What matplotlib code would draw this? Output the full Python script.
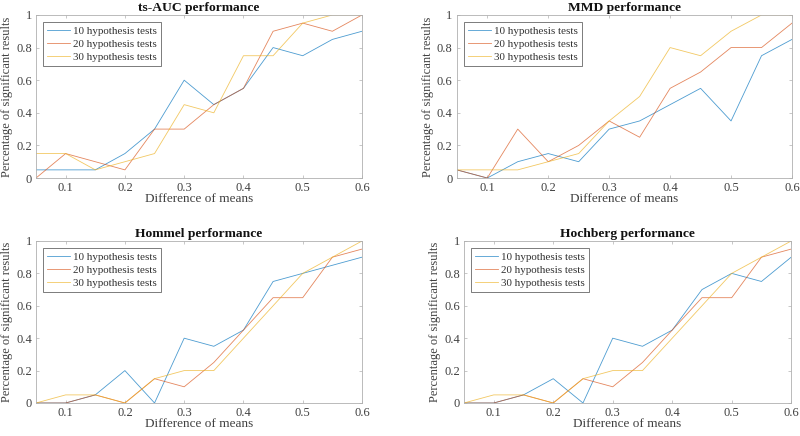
# Recreate 4-panel performance chart (MATLAB style)
import matplotlib
matplotlib.use("Agg")
import matplotlib.pyplot as plt
import numpy as np

plt.rcParams['font.family'] = ['Liberation Serif', 'DejaVu Serif']

diff_means = [0.05, 0.1, 0.15, 0.2, 0.25, 0.3, 0.35, 0.4, 0.45, 0.5, 0.55, 0.6]
series_names = ["10 hypothesis tests", "20 hypothesis tests", "30 hypothesis tests"]

auc_10 = [0.05, 0.05, 0.05, 0.15, 0.3, 0.6, 0.45, 0.55, 0.8, 0.75, 0.85, 0.9]
auc_20 = [0, 0.15, 0.1, 0.05, 0.3, 0.3, 0.45, 0.55, 0.9, 0.95, 0.9, 1.0]
auc_30 = [0.15, 0.15, 0.05, 0.1, 0.15, 0.45, 0.4, 0.75, 0.75, 0.95, 1.0, 1.0]

mmd_10 = [0.05, 0, 0.1, 0.15, 0.1, 0.3, 0.35, 0.45, 0.55, 0.35, 0.75, 0.85]
mmd_20 = [0.05, 0, 0.3, 0.1, 0.2, 0.35, 0.25, 0.55, 0.65, 0.8, 0.8, 0.95]
mmd_30 = [0.05, 0.05, 0.05, 0.1, 0.15, 0.35, 0.5, 0.8, 0.75, 0.9, 1.0, 1.0]

hommel_10 = [0, 0, 0.05, 0.2, 0, 0.4, 0.35, 0.45, 0.75, 0.8, 0.85, 0.9]
hommel_20 = [0, 0, 0.05, 0, 0.15, 0.1, 0.25, 0.45, 0.65, 0.65, 0.9, 0.95]
hommel_30 = [0, 0.05, 0.05, 0, 0.15, 0.2, 0.2, 0.4, 0.6, 0.8, 0.9, 1.0]

hochberg_10 = [0, 0, 0.05, 0.15, 0, 0.4, 0.35, 0.45, 0.7, 0.8, 0.75, 0.9]
hochberg_20 = [0, 0, 0.05, 0, 0.15, 0.1, 0.25, 0.45, 0.65, 0.65, 0.9, 0.95]
hochberg_30 = [0, 0.05, 0.05, 0, 0.15, 0.2, 0.2, 0.4, 0.6, 0.8, 0.9, 1.0]

colors = ["#0072BD", "#D95319", "#EDB120"]

fig = plt.figure(figsize=(8, 4.36), dpi=100)

panels = [
    ("ts-AUC performance", [auc_10, auc_20, auc_30], [0.045, 0.5917, 0.4075, 0.374]),
    ("MMD performance", [mmd_10, mmd_20, mmd_30], [0.571, 0.5917, 0.419, 0.374]),
    ("Hommel performance", [hommel_10, hommel_20, hommel_30], [0.045, 0.0757, 0.4075, 0.3716]),
    ("Hochberg performance", [hochberg_10, hochberg_20, hochberg_30], [0.58, 0.0757, 0.409, 0.3716]),
]

for title, ys, pos in panels:
    ax = fig.add_axes(pos)
    for y, c, name in zip(ys, colors, series_names):
        ax.plot(diff_means, y, color=c, lw=0.6, alpha=0.7, label=name)
    ax.set_xlim(0.05, 0.6)
    ax.set_ylim(0, 1)
    ax.set_xticks([0.1, 0.2, 0.3, 0.4, 0.5, 0.6])
    ax.set_xticklabels(["0.1", "0.2", "0.3", "0.4", "0.5", "0.6"])
    ax.set_yticks([0, 0.2, 0.4, 0.6, 0.8, 1])
    ax.set_yticklabels(["0", "0.2", "0.4", "0.6", "0.8", "1"])
    ax.tick_params(direction="in", length=2.5, width=0.5, colors="#b0b0b0",
                   labelcolor="#404040", labelsize=9, top=True, right=True, pad=3)
    for s in ax.spines.values():
        s.set_color("#b0b0b0")
        s.set_linewidth(0.6)
    ax.set_title(title, fontsize=9.7, fontweight="bold", pad=3, color="#111111")
    ax.set_xlabel("Difference of means", fontsize=9.5, color="#404040", labelpad=-1)
    ax.set_ylabel("Percentage of significant results", fontsize=9, color="#404040", labelpad=2)
    leg = ax.legend(loc="upper left", fontsize=7.9, frameon=True, fancybox=False,
                    borderpad=0.35, labelspacing=0.32, handlelength=2.1,
                    handletextpad=0.3, borderaxespad=0.65)
    leg.get_frame().set_edgecolor("#404040")
    leg.get_frame().set_linewidth(0.6)
    for t in leg.get_texts():
        t.set_color("#303030")

fig.savefig("out.png", dpi=100)
